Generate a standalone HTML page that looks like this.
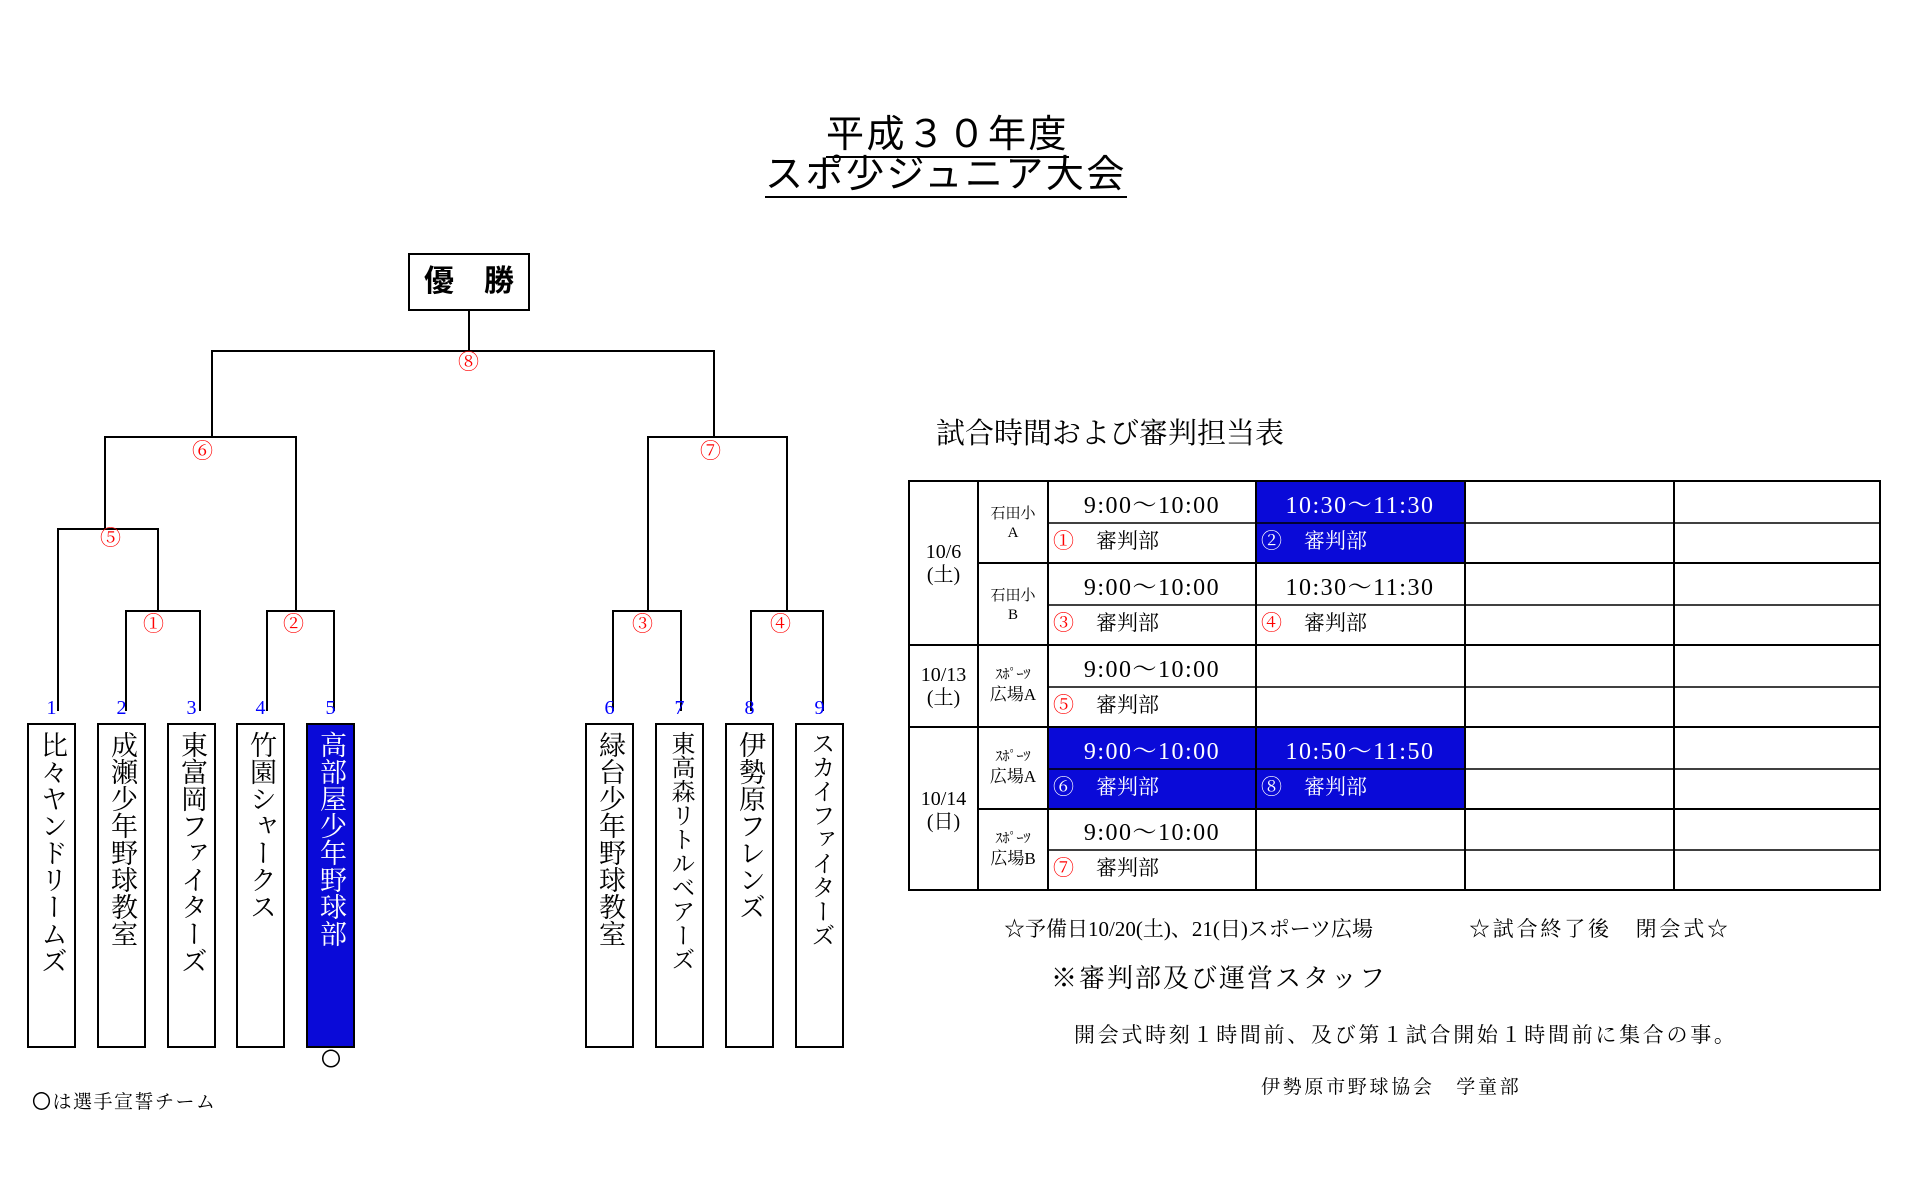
<!DOCTYPE html>
<html><head><meta charset="utf-8">
<style>
body{margin:0;width:1920px;height:1200px;background:#fff;position:relative;overflow:hidden;font-family:"Liberation Serif","Noto Serif CJK SC","Noto Sans CJK JP",serif;}
.a{position:absolute;white-space:nowrap;line-height:1;}
.t{font-family:"Liberation Sans","Noto Sans CJK JP",sans-serif;font-size:38px;letter-spacing:2.5px;border-bottom:2px solid #000;padding-bottom:2px;}
.r{color:#f00;font-size:21px;}
.team{position:absolute;top:723px;border:2px solid #000;writing-mode:vertical-rl;font-size:27px;line-height:44px;padding-top:6px;box-sizing:border-box;height:325px;width:49px;text-align:start;}
.num{position:absolute;top:697px;width:49px;text-align:center;color:#00f;font-size:20px;}
.tm{position:absolute;font-size:24px;letter-spacing:1.5px;width:208px;text-align:center;line-height:24px;}
.ref{position:absolute;font-size:21px;line-height:21px;}
.ref b{font-weight:normal;color:#f00;margin-right:22px;}
.w{color:#fff!important;}
.v{position:absolute;width:70px;text-align:center;font-size:17px;line-height:19px;}
.d{position:absolute;width:69px;text-align:center;font-size:20px;line-height:23px;}
</style></head><body>
<div class="a t" style="left:826px;top:116px;">平成３０年度</div>
<div class="a t" style="left:765px;top:156px;">スポ少ジュニア大会</div>

<div class="a" style="left:408px;top:253px;width:122px;height:58px;border:2px solid #000;box-sizing:border-box;font-size:30px;font-weight:bold;line-height:54px;text-align:center;font-family:'Liberation Sans','Noto Sans CJK JP',sans-serif;">優　勝</div>

<div class="a" style="left:1256px;top:482px;width:209px;height:81px;background:#0a0ad8;"></div>
<div class="a" style="left:1048px;top:728px;width:417px;height:81px;background:#0a0ad8;"></div>

<svg class="a" style="left:0;top:0" width="1920" height="1200">
<g stroke="#000" stroke-width="2" fill="none">
<path d="M469 311V351M212 437V351H714V437"/>
<path d="M105 529V437H296V611"/>
<path d="M58 711V529H158V611"/>
<path d="M126 711V611H200V711"/>
<path d="M267 711V611H334V711"/>
<path d="M648 611V437H787V611"/>
<path d="M613 711V611H681V711"/>
<path d="M751 711V611H823V711"/>
</g>
<g stroke="#000" stroke-width="2" fill="none">
<rect x="909" y="481" width="971" height="409"/>
<path d="M978 481V890M1048 481V890M1256 481V890M1465 481V890M1674 481V890"/>
<path d="M978 563H1880M909 645H1880M978 809H1880M909 727H1880"/>
<path d="M1048 523H1880M1048 605H1880M1048 687H1880M1048 769H1880M1048 850H1880" stroke-width="1.5"/>
</g>
</svg>

<div class="a r" style="left:458px;top:352px;">⑧</div>
<div class="a r" style="left:192px;top:441px;">⑥</div>
<div class="a r" style="left:700px;top:441px;">⑦</div>
<div class="a r" style="left:100px;top:528px;">⑤</div>
<div class="a r" style="left:143px;top:614px;">①</div>
<div class="a r" style="left:283px;top:614px;">②</div>
<div class="a r" style="left:632px;top:614px;">③</div>
<div class="a r" style="left:770px;top:614px;">④</div>

<div class="num" style="left:27px">1</div><div class="team" style="left:27px">比々ヤンドリームズ</div>
<div class="num" style="left:97px">2</div><div class="team" style="left:97px">成瀬少年野球教室</div>
<div class="num" style="left:167px">3</div><div class="team" style="left:167px">東富岡ファイターズ</div>
<div class="num" style="left:236px">4</div><div class="team" style="left:236px">竹園シャークス</div>
<div class="num" style="left:306px">5</div><div class="team" style="left:306px;background:#0a0ad8;color:#fff;">高部屋少年野球部</div>
<div class="num" style="left:585px">6</div><div class="team" style="left:585px">緑台少年野球教室</div>
<div class="num" style="left:655px">7</div><div class="team" style="left:655px;font-size:24px;">東高森リトルベアーズ</div>
<div class="num" style="left:725px">8</div><div class="team" style="left:725px">伊勢原フレンズ</div>
<div class="num" style="left:795px">9</div><div class="team" style="left:795px;font-size:24px;">スカイファイターズ</div>
<div class="a" style="left:321px;top:1048px;font-size:20px;font-family:'Noto Sans CJK JP',sans-serif;">〇</div>
<div class="a" style="left:32px;top:1091px;font-size:19px;letter-spacing:1.5px;"><span style="font-family:'Noto Sans CJK JP',sans-serif;">〇</span>は選手宣誓チーム</div>

<div class="a" style="left:936px;top:420px;font-size:29px;">試合時間および審判担当表</div>

<div class="d" style="left:909px;top:541px;">10/6<br>(土)</div>
<div class="d" style="left:909px;top:664px;">10/13<br>(土)</div>
<div class="d" style="left:909px;top:788px;">10/14<br>(日)</div>
<div class="v" style="left:978px;top:505px;font-size:15px;">石田小<br>A</div>
<div class="v" style="left:978px;top:587px;font-size:15px;">石田小<br>B</div>
<div class="v" style="left:978px;top:664px;"><span style="font-size:14px">ｽﾎﾟｰﾂ</span><br>広場A</div>
<div class="v" style="left:978px;top:746px;"><span style="font-size:14px">ｽﾎﾟｰﾂ</span><br>広場A</div>
<div class="v" style="left:978px;top:828px;"><span style="font-size:14px">ｽﾎﾟｰﾂ</span><br>広場B</div>

<div class="tm" style="left:1048px;top:494px;">9:00～10:00</div>
<div class="tm w" style="left:1256px;top:494px;">10:30～11:30</div>
<div class="ref" style="left:1053px;top:531px;"><b>①</b>審判部</div>
<div class="ref w" style="left:1261px;top:531px;"><b class="w">②</b>審判部</div>
<div class="tm" style="left:1048px;top:576px;">9:00～10:00</div>
<div class="tm" style="left:1256px;top:576px;">10:30～11:30</div>
<div class="ref" style="left:1053px;top:613px;"><b>③</b>審判部</div>
<div class="ref" style="left:1261px;top:613px;"><b>④</b>審判部</div>
<div class="tm" style="left:1048px;top:658px;">9:00～10:00</div>
<div class="ref" style="left:1053px;top:695px;"><b>⑤</b>審判部</div>
<div class="tm w" style="left:1048px;top:740px;">9:00～10:00</div>
<div class="tm w" style="left:1256px;top:740px;">10:50～11:50</div>
<div class="ref w" style="left:1053px;top:777px;"><b class="w">⑥</b>審判部</div>
<div class="ref w" style="left:1261px;top:777px;"><b class="w">⑧</b>審判部</div>
<div class="tm" style="left:1048px;top:821px;">9:00～10:00</div>
<div class="ref" style="left:1053px;top:858px;"><b>⑦</b>審判部</div>

<div class="a" style="left:1004px;top:919px;font-size:21px;">☆予備日10/20(土)、21(日)スポーツ広場</div>
<div class="a" style="left:1469px;top:919px;font-size:21px;letter-spacing:2.8px;">☆試合終了後　閉会式☆</div>
<div class="a" style="left:1051px;top:966px;font-size:26px;letter-spacing:2px;">※審判部及び運営スタッフ</div>
<div class="a" style="left:1074px;top:1025px;font-size:21px;letter-spacing:2.7px;">開会式時刻１時間前、及び第１試合開始１時間前に集合の事。</div>
<div class="a" style="left:1261px;top:1078px;font-size:19px;letter-spacing:2.7px;">伊勢原市野球協会　学童部</div>
</body></html>
